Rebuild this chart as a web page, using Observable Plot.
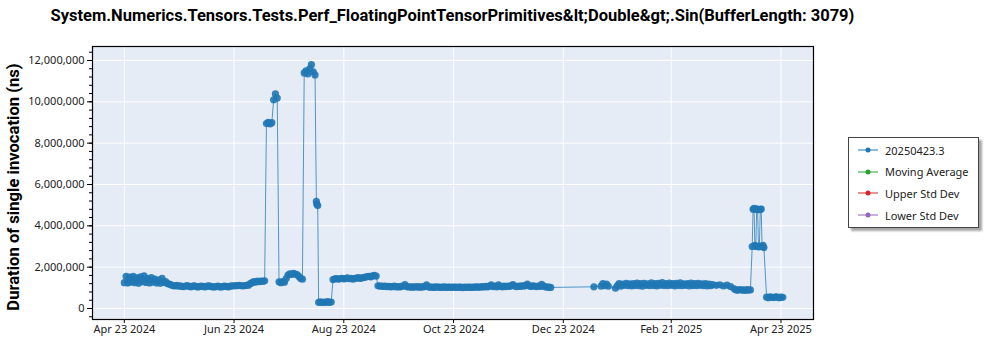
<!DOCTYPE html>
<html><head><meta charset="utf-8">
<script src="https://cdn.jsdelivr.net/npm/d3@7"></script>
<script src="https://cdn.jsdelivr.net/npm/@observablehq/plot@0.6"></script>
<style>
body{margin:0;background:#fff;width:1000px;height:350px;position:relative;overflow:hidden;font-family:"Noto Sans",sans-serif}
#title{position:absolute;left:0;top:6px;width:905px;text-align:center;font-family:Roboto,"Noto Sans",sans-serif;font-weight:bold;font-size:16.5px;color:#000;white-space:nowrap}
#ylabel{position:absolute;left:-136px;top:176px;width:300px;height:22px;line-height:22px;text-align:center;transform:rotate(-90deg);font-family:Roboto,"Noto Sans",sans-serif;font-weight:bold;font-size:16.6px;color:#000;white-space:nowrap}
#chart{position:absolute;left:0;top:36px}
#legend{position:absolute;left:848px;top:137px;width:129px;height:89px;border:1px solid #444;background:#fff;box-shadow:3px 3px 2px rgba(0,0,0,0.35)}
.row{position:absolute;left:8px;height:16px;display:flex;align-items:center;font-size:11px;color:#222;white-space:nowrap}
.row svg{margin-right:6px}
</style></head><body>
<div id="title"></div>
<div id="ylabel"></div>
<div id="chart"></div>
<div id="legend"></div>
<script>
const titleText = "System.Numerics.Tensors.Tests.Perf_FloatingPointTensorPrimitives&lt;Double&gt;.Sin(BufferLength: 3079)";
const yAxisLabel = "Duration of single invocation (ns)";
const legendLabels = ["20250423.3", "Moving Average", "Upper Std Dev", "Lower Std Dev"];
const legendColors = ["#1f77b4", "#2ca02c", "#d62728", "#9467bd"];
const xTickDates = ["2024-04-23","2024-06-23","2024-08-23","2024-10-23","2024-12-23","2025-02-21","2025-04-23"];
const yTickValues = [0, 2000000, 4000000, 6000000, 8000000, 10000000, 12000000];

const runDates = [
"2024-04-23","2024-04-24","2024-04-25","2024-04-26","2024-04-27","2024-04-28","2024-04-29","2024-04-30",
"2024-05-01","2024-05-02","2024-05-03","2024-05-04","2024-05-05","2024-05-06","2024-05-07","2024-05-08","2024-05-09","2024-05-10",
"2024-05-11","2024-05-12","2024-05-13","2024-05-14","2024-05-15","2024-05-16","2024-05-17","2024-05-18","2024-05-19","2024-05-20",
"2024-05-21","2024-05-22","2024-05-23","2024-05-24","2024-05-25","2024-05-26","2024-05-27","2024-05-28","2024-05-29","2024-05-30","2024-05-31",
"2024-06-01","2024-06-02","2024-06-03","2024-06-04","2024-06-05","2024-06-06","2024-06-07","2024-06-08","2024-06-09","2024-06-10",
"2024-06-11","2024-06-12","2024-06-13","2024-06-14","2024-06-15","2024-06-16","2024-06-17","2024-06-18","2024-06-19","2024-06-20",
"2024-06-21","2024-06-22","2024-06-23","2024-06-24","2024-06-25","2024-06-26","2024-06-27","2024-06-28","2024-06-29","2024-06-30",
"2024-07-01","2024-07-02","2024-07-03","2024-07-04","2024-07-05","2024-07-06","2024-07-07","2024-07-08","2024-07-09","2024-07-10",
"2024-07-11","2024-07-12","2024-07-13","2024-07-14","2024-07-15","2024-07-16","2024-07-17",
"2024-07-18","2024-07-19","2024-07-20","2024-07-21","2024-07-22","2024-07-23","2024-07-24","2024-07-25","2024-07-26","2024-07-27","2024-07-28","2024-07-29","2024-07-30","2024-07-31",
"2024-08-01","2024-08-02","2024-08-03","2024-08-04","2024-08-05","2024-08-06","2024-08-07","2024-08-07T18:00Z","2024-08-08","2024-08-08T12:00Z",
"2024-08-09","2024-08-10","2024-08-11","2024-08-12","2024-08-13","2024-08-14","2024-08-15","2024-08-16",
"2024-08-17","2024-08-18","2024-08-19","2024-08-20","2024-08-21","2024-08-22","2024-08-23","2024-08-24","2024-08-25","2024-08-26","2024-08-27","2024-08-28","2024-08-29","2024-08-30","2024-08-31",
"2024-09-01","2024-09-02","2024-09-03","2024-09-04","2024-09-05","2024-09-06","2024-09-07","2024-09-08","2024-09-09","2024-09-10",
"2024-09-11","2024-09-12","2024-09-13","2024-09-14","2024-09-15","2024-09-16","2024-09-17","2024-09-18","2024-09-19","2024-09-20",
"2024-09-21","2024-09-22","2024-09-23","2024-09-24","2024-09-25","2024-09-26","2024-09-27","2024-09-28","2024-09-29","2024-09-30",
"2024-10-01","2024-10-02","2024-10-03","2024-10-04","2024-10-05","2024-10-06","2024-10-07","2024-10-08","2024-10-09","2024-10-10",
"2024-10-11","2024-10-12","2024-10-13","2024-10-14","2024-10-15","2024-10-16","2024-10-17","2024-10-18","2024-10-19","2024-10-20",
"2024-10-21","2024-10-22","2024-10-23","2024-10-24","2024-10-25","2024-10-26","2024-10-27","2024-10-28","2024-10-29","2024-10-30","2024-10-31",
"2024-11-01","2024-11-02","2024-11-03","2024-11-04","2024-11-05","2024-11-06","2024-11-07","2024-11-08","2024-11-09","2024-11-10",
"2024-11-11","2024-11-12","2024-11-13","2024-11-14","2024-11-15","2024-11-16","2024-11-17","2024-11-18","2024-11-19","2024-11-20",
"2024-11-21","2024-11-22","2024-11-23","2024-11-24","2024-11-25","2024-11-26","2024-11-27","2024-11-28","2024-11-29","2024-11-30",
"2024-12-01","2024-12-02","2024-12-03","2024-12-04","2024-12-05","2024-12-06","2024-12-07","2024-12-08","2024-12-09","2024-12-10",
"2024-12-11","2024-12-12","2024-12-13","2024-12-14","2024-12-15","2024-12-16",
"2025-01-09","2025-01-13","2025-01-14","2025-01-15","2025-01-16","2025-01-17","2025-01-21",
"2025-01-22","2025-01-23","2025-01-24","2025-01-25","2025-01-26","2025-01-27","2025-01-28","2025-01-29","2025-01-30","2025-01-31",
"2025-02-01","2025-02-02","2025-02-03","2025-02-04","2025-02-05","2025-02-06","2025-02-07","2025-02-08","2025-02-09","2025-02-10",
"2025-02-11","2025-02-12","2025-02-13","2025-02-14","2025-02-15","2025-02-16","2025-02-17","2025-02-18","2025-02-19","2025-02-20",
"2025-02-21","2025-02-22","2025-02-23","2025-02-24","2025-02-25","2025-02-26","2025-02-27","2025-02-28",
"2025-03-01","2025-03-02","2025-03-03","2025-03-04","2025-03-05","2025-03-06","2025-03-07","2025-03-08","2025-03-09","2025-03-10",
"2025-03-11","2025-03-12","2025-03-13","2025-03-14","2025-03-15","2025-03-16",
"2025-03-18","2025-03-20","2025-03-22","2025-03-24","2025-03-26",
"2025-03-28","2025-03-29","2025-03-30","2025-03-31",
"2025-04-01","2025-04-02","2025-04-03","2025-04-04","2025-04-05","2025-04-06",
"2025-04-07T00:00Z","2025-04-07T12:00Z","2025-04-08T00:00Z","2025-04-08T12:00Z","2025-04-09T00:00Z","2025-04-09T12:00Z","2025-04-10T00:00Z",
"2025-04-10T12:00Z","2025-04-11T00:00Z","2025-04-11T12:00Z","2025-04-12T00:00Z","2025-04-12T12:00Z","2025-04-13T00:00Z","2025-04-13T12:00Z",
"2025-04-15","2025-04-16","2025-04-17","2025-04-18","2025-04-19","2025-04-20","2025-04-21","2025-04-22","2025-04-23","2025-04-24"
];

const durationsNs = [
1250000,1550000,1230000,1520000,1280000,1560000,1250000,1480000,
1220000,1530000,1300000,1580000,1260000,1450000,1240000,1500000,1280000,1420000,
1230000,1380000,1220000,1460000,1260000,1300000,1200000,1180000,1150000,1100000,
1090000,1120000,1080000,1100000,1070000,1060000,1090000,1110000,1070000,1050000,1080000,
1100000,1060000,1040000,1070000,1090000,1060000,1050000,1080000,1100000,1070000,
1050000,1040000,1060000,1080000,1050000,1040000,1070000,1090000,1060000,1050000,
1080000,1100000,1090000,1110000,1100000,1120000,1100000,1090000,1110000,1120000,
1130000,1200000,1250000,1300000,1280000,1320000,1300000,1330000,1310000,1340000,
8950000,9010000,8930000,8990000,10100000,10380000,10180000,
1290000,1250000,1300000,1270000,1450000,1620000,1680000,1650000,1700000,1660000,1640000,1550000,1450000,1420000,
11400000,11500000,11350000,11600000,11800000,11450000,11300000,5180000,5050000,4980000,
300000,320000,290000,310000,300000,330000,300000,310000,
1400000,1430000,1450000,1420000,1440000,1460000,1430000,1450000,1480000,1440000,1460000,1420000,1450000,1470000,1490000,
1460000,1480000,1500000,1520000,1540000,1560000,1530000,1580000,1600000,1570000,
1100000,1080000,1090000,1070000,1080000,1060000,1070000,1050000,1060000,1080000,
1050000,1060000,1040000,1070000,1090000,1160000,1060000,1040000,1050000,1030000,
1050000,1040000,1060000,1030000,1050000,1040000,1070000,1150000,1050000,1030000,
1040000,1020000,1050000,1030000,1040000,1020000,1030000,1050000,1020000,1040000,
1030000,1020000,1040000,1030000,1020000,1040000,1030000,1010000,1030000,1020000,1040000,
1030000,1020000,1040000,1030000,1050000,1030000,1040000,1060000,1040000,1070000,
1050000,1080000,1150000,1060000,1080000,1050000,1140000,1070000,1050000,1080000,
1060000,1090000,1070000,1100000,1160000,1080000,1060000,1090000,1070000,1100000,
1080000,1110000,1180000,1090000,1070000,1100000,1080000,1060000,1090000,1070000,
1170000,1080000,1050000,1040000,1030000,1020000,
1050000,1080000,1200000,1100000,1180000,1080000,980000,
1100000,1200000,1080000,1180000,1120000,1220000,1100000,1190000,1090000,1210000,
1110000,1230000,1100000,1200000,1080000,1220000,1120000,1190000,1100000,1240000,
1110000,1200000,1090000,1220000,1130000,1250000,1110000,1210000,1100000,1230000,
1120000,1200000,1090000,1220000,1110000,1240000,1100000,1190000,
1120000,1210000,1090000,1230000,1110000,1200000,1100000,1220000,1120000,1190000,
1100000,1210000,1090000,1180000,1100000,1160000,
1120000,1150000,1090000,1130000,1060000,
950000,900000,880000,920000,
890000,900000,870000,910000,890000,900000,
3000000,4800000,4850000,3050000,3000000,4820000,4780000,
2980000,3020000,4800000,4810000,3000000,3050000,2950000,
550000,520000,560000,540000,530000,560000,550000,520000,550000,540000
];

const n = Math.min(runDates.length, durationsNs.length);
const data = runDates.slice(0, n).map((d, i) => ({date: new Date(d), value: durationsNs[i]}));
const xTicks = xTickDates.map(d => new Date(d));
const yMinorTicks = d3.range(-400000, 12400001, 400000);

document.getElementById("title").textContent = titleText;
document.getElementById("ylabel").textContent = yAxisLabel;

const chart = Plot.plot({
  width: 830, height: 314,
  marginLeft: 92, marginRight: 17, marginTop: 10, marginBottom: 31,
  style: {fontFamily: '"Noto Sans", sans-serif', fontSize: "11px", color: "#222", background: "transparent", overflow: "visible"},
  x: {type: "utc", domain: [new Date("2024-04-05T07:40Z"), new Date("2025-05-11T01:40Z")], label: null},
  y: {domain: [-532000, 12677000], label: null},
  marks: [
    Plot.frame({fill: "#E5ECF6", stroke: null}),
    Plot.gridY(yTickValues, {stroke: "#fff", strokeOpacity: 1, strokeWidth: 1}),
    Plot.gridX(xTicks, {stroke: "#fff", strokeOpacity: 1, strokeWidth: 1}),
    Plot.line(data, {x: "date", y: "value", stroke: "#1f77b4", strokeWidth: 1, strokeOpacity: 0.75}),
    Plot.dot(data, {x: "date", y: "value", r: 3.6, fill: "#1f77b4", fillOpacity: 0.9, stroke: null}),
    Plot.axisY(yMinorTicks, {tickSize: 3, tickFormat: () => "", label: null, stroke: "#000"}),
    Plot.axisY(yTickValues, {tickSize: 5, tickPadding: 3, tickFormat: d3.format(","), label: null, stroke: "#000"}),
    Plot.axisX(xTicks, {tickSize: 4, tickPadding: 2, tickFormat: d3.utcFormat("%b %d %Y"), label: null, stroke: "#000"}),
    Plot.frame({stroke: "#000", strokeWidth: 1.2})
  ]
});
document.getElementById("chart").appendChild(chart);

const legend = document.getElementById("legend");
legendLabels.forEach((lab, i) => {
  const row = document.createElement("div");
  row.className = "row";
  row.style.top = (4 + i * 21.7) + "px";
  row.innerHTML = `<svg width="22" height="8"><line x1="1" x2="21" y1="4" y2="4" stroke="${legendColors[i]}" stroke-width="1"/><circle cx="11" cy="4" r="2.5" fill="${legendColors[i]}"/></svg>`;
  const span = document.createElement("span");
  span.textContent = lab;
  row.appendChild(span);
  legend.appendChild(row);
});
</script>
</body></html>
